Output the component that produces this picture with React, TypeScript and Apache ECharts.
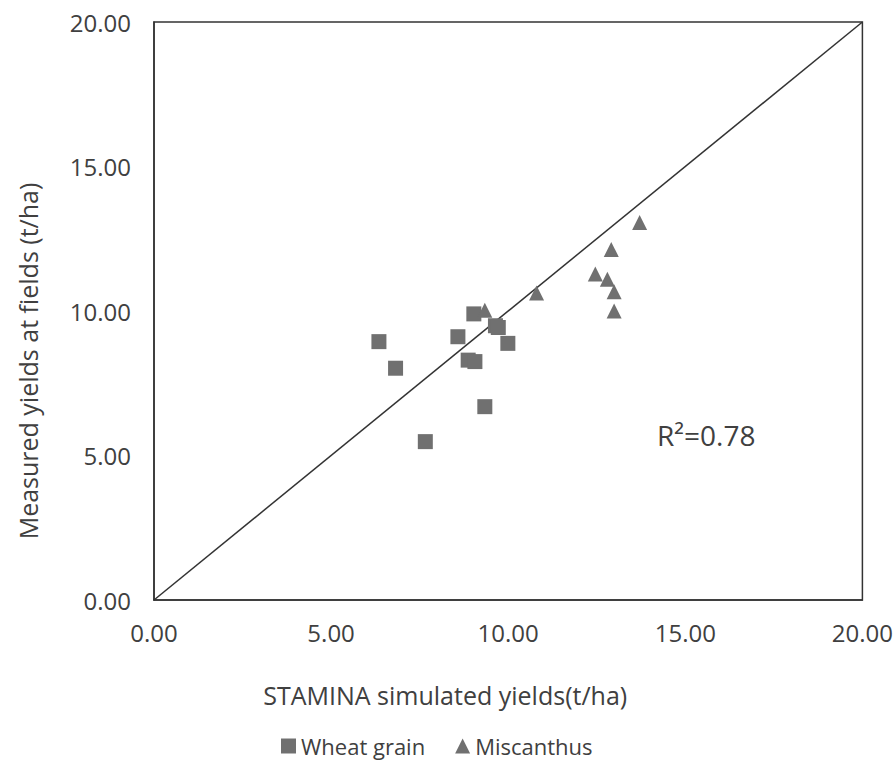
import React, { useEffect, useRef } from "react";
import * as echarts from "echarts";

const wheatX = [6.35, 6.82, 7.66, 8.58, 9.03, 8.87, 9.06, 9.34, 9.64, 9.72, 9.99];
const wheatY = [8.94, 8.02, 5.48, 9.11, 9.9, 8.3, 8.25, 6.69, 9.49, 9.43, 8.88];
const miscX = [9.34, 10.8, 12.46, 12.8, 12.99, 12.99, 12.91, 13.71];
const miscY = [10.03, 10.62, 11.28, 11.1, 10.67, 10.0, 12.13, 13.06];
const oneToOne = [[0, 0], [20, 20]];
const seriesNames = ["Wheat grain", "Miscanthus"];
const xTitle = "STAMINA simulated yields(t/ha)";
const yTitle = "Measured yields at fields (t/ha)";
const rSquared = "R\u00B2=0.78";

const FONT = "'Open Sans', 'Noto Sans', sans-serif";
const TXT = "#404040";
const MARK = "#707070";

export default function App() {
  const ref = useRef<HTMLDivElement>(null);
  useEffect(() => {
    if (!ref.current) return;
    const chart = echarts.init(ref.current, undefined, { renderer: "svg" });
    const axisCommon = {
      type: "value",
      min: 0,
      max: 20,
      interval: 5,
      splitLine: { show: false },
      axisTick: { show: false },
      axisLine: { show: true, lineStyle: { color: "#333", width: 1.5 } },
      axisLabel: {
        color: TXT,
        fontFamily: FONT,
        fontSize: 24,
        formatter: (v: number) => v.toFixed(2),
      },
      nameLocation: "middle",
    };
    chart.setOption({
      animation: false,
      backgroundColor: "#fff",
      textStyle: { fontFamily: FONT },
      grid: {
        left: 154,
        top: 22,
        right: 33,
        bottom: 160,
        show: true,
        borderColor: "#333",
        borderWidth: 1.5,
      },
      xAxis: {
        ...axisCommon,
        name: xTitle,
        nameGap: 82,
        nameTextStyle: {
          color: TXT,
          fontFamily: FONT,
          fontSize: 25,
          padding: [0, 126, 0, 0],
        },
        axisLabel: { ...axisCommon.axisLabel, margin: 20 },
      },
      yAxis: {
        ...axisCommon,
        name: yTitle,
        nameGap: 114,
        nameTextStyle: {
          color: TXT,
          fontFamily: FONT,
          fontSize: 25,
          padding: [0, 100, 0, 0],
        },
        axisLabel: { ...axisCommon.axisLabel, margin: 23 },
      },
      legend: {
        top: 734,
        left: 281,
        padding: 0,
        itemWidth: 15,
        itemHeight: 15,
        itemGap: 30,
        textStyle: {
          color: TXT,
          fontFamily: FONT,
          fontSize: 22,
          lineHeight: 24,
        },
        data: [
          { name: seriesNames[0], icon: "rect" },
          { name: seriesNames[1], icon: "triangle" },
        ],
      },
      series: [
        {
          type: "line",
          data: oneToOne,
          symbol: "none",
          lineStyle: { color: "#333", width: 1.5 },
          silent: true,
          z: 1,
        },
        {
          name: seriesNames[0],
          type: "scatter",
          symbol: "rect",
          symbolSize: 15,
          itemStyle: { color: MARK, opacity: 1 },
          data: wheatX.map((x, i) => [x, wheatY[i]]),
          z: 3,
        },
        {
          name: seriesNames[1],
          type: "scatter",
          symbol: "triangle",
          symbolSize: 15,
          itemStyle: { color: MARK, opacity: 1 },
          data: miscX.map((x, i) => [x, miscY[i]]),
          z: 3,
        },
      ],
      graphic: [
        {
          type: "text",
          left: 657,
          top: 421,
          style: { text: rSquared, fill: TXT, font: `28px ${FONT}` },
        },
      ],
    });
    return () => chart.dispose();
  }, []);
  return (
    <div
      ref={ref}
      style={{ position: "absolute", left: 0, top: 0, width: 896, height: 760 }}
    />
  );
}
